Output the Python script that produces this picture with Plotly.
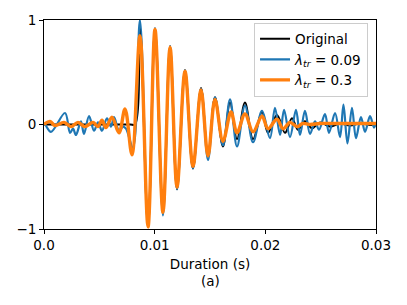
import plotly.graph_objects as go

# ---- data ----
t_orig = [0.0, 0.0050, 0.0078, 0.00822, 0.00867, 0.00940, 0.01003, 0.01075, 0.01139,
          0.01202, 0.01274, 0.01346, 0.01419, 0.01482, 0.01545, 0.01617, 0.01681,
          0.01744, 0.01816, 0.01889, 0.01970, 0.02024, 0.02105, 0.02178, 0.02241,
          0.02295, 0.02358, 0.02422, 0.02494, 0.02584, 0.02675, 0.02765, 0.02855, 0.02946, 0.03]
y_orig = [0.0, 0.0, 0.0, 0.0, 0.93, -0.98, 0.92, -0.85, 0.75,
          -0.62, 0.52, -0.42, 0.35, -0.30, 0.26, -0.21, 0.21,
          -0.14, 0.21, -0.14, 0.12, -0.08, 0.09, -0.08, 0.06,
          -0.05, 0.03, -0.035, 0.02, -0.02, 0.01, -0.01, 0.01, -0.005, 0.0]

t_l009 = [0.0, 0.00009, 0.00063, 0.00190, 0.00235, 0.00262, 0.00289, 0.00334, 0.00361,
          0.00407, 0.00452, 0.00488, 0.00524, 0.00569, 0.00605, 0.00633, 0.00678,
          0.00714, 0.00741, 0.00804, 0.00867, 0.00940, 0.01003, 0.01075, 0.01139,
          0.01202, 0.01274, 0.01346, 0.01419, 0.01482, 0.01545, 0.01617, 0.01681,
          0.01744, 0.01816, 0.01889, 0.01970, 0.02042, 0.02087, 0.02133, 0.02169,
          0.02223, 0.02277, 0.02313, 0.02358, 0.02404, 0.02449, 0.02485, 0.02539,
          0.02575, 0.02630, 0.02675, 0.02706, 0.02742, 0.02783, 0.02819, 0.02864,
          0.02901, 0.02946, 0.02982, 0.03]
y_l009 = [0.0, 0.0, -0.07, 0.11, -0.08, -0.04, -0.10, 0.03, -0.09,
          0.08, -0.06, 0.02, -0.06, 0.06, -0.02, 0.07, -0.06,
          -0.02, -0.04, -0.22, 1.0, -0.98, 0.92, -0.87, 0.75,
          -0.62, 0.52, -0.42, 0.34, -0.34, 0.26, -0.20, 0.24,
          -0.21, 0.18, -0.17, 0.13, -0.13, 0.16, -0.10, 0.14,
          -0.12, 0.14, -0.10, 0.13, -0.09, 0.03, -0.05, 0.10,
          -0.08, 0.11, -0.12, 0.19, -0.18, 0.16, -0.13, 0.07,
          -0.07, 0.08, -0.03, 0.02]

t_l03 = [0.0, 0.00054, 0.00099, 0.00181, 0.00244, 0.00307, 0.00370, 0.00443, 0.00488,
         0.00524, 0.00560, 0.00614, 0.00678, 0.00732, 0.00795, 0.00867, 0.00940,
         0.01003, 0.01075, 0.01139, 0.01202, 0.01274, 0.01346, 0.01419, 0.01482,
         0.01545, 0.01617, 0.01690, 0.01744, 0.01816, 0.01889, 0.01970, 0.02024,
         0.02105, 0.02160, 0.02223, 0.02286, 0.02340, 0.02404, 0.02494, 0.02630, 0.03]
y_l03 = [0.0, 0.03, -0.01, 0.02, -0.02, 0.02, -0.02, 0.02, -0.02,
         0.04, -0.03, 0.07, -0.08, 0.15, -0.29, 0.85, -0.98,
         0.91, -0.84, 0.74, -0.60, 0.51, -0.40, 0.33, -0.30,
         0.24, -0.16, 0.12, -0.08, 0.10, -0.07, 0.08, -0.04,
         0.05, -0.04, 0.02, -0.02, 0.01, 0.0, 0.01, 0.01, 0.01]

x_ticks = [0.0, 0.01, 0.02, 0.03]
x_ticktext = ["0.0", "0.01", "0.02", "0.03"]
y_ticks = [-1, 0, 1]
y_ticktext = ["\u22121", "0", "1"]

FONT = "DejaVu Sans"
FS = 13.5

fig = go.Figure()
fig.add_trace(go.Scatter(x=t_orig, y=y_orig, mode="lines", name="Original",
                         line=dict(color="#000000", width=2.0, shape="spline", smoothing=1.0)))
fig.add_trace(go.Scatter(x=t_l009, y=y_l009, mode="lines",
                         name="<i>λ</i><sub><i>tr</i></sub> = 0.09",
                         line=dict(color="#1f77b4", width=2.2, shape="spline", smoothing=1.0)))
fig.add_trace(go.Scatter(x=t_l03, y=y_l03, mode="lines",
                         name="<i>λ</i><sub><i>tr</i></sub> = 0.3",
                         line=dict(color="#ff7f0e", width=3.4, shape="spline", smoothing=1.0)))

axis_common = dict(showline=True, mirror=True, linecolor="#000000", linewidth=1,
                   ticks="outside", ticklen=4, tickwidth=1, tickcolor="#000000",
                   showgrid=False, zeroline=False, automargin=False,
                   tickfont=dict(family=FONT, size=FS, color="#000000"))

fig.update_xaxes(range=[0, 0.03], tickvals=x_ticks, ticktext=x_ticktext,
                 title=dict(text="Duration (s)", standoff=7,
                            font=dict(family=FONT, size=FS, color="#000000")),
                 **axis_common)
fig.update_yaxes(range=[-1, 1], tickvals=y_ticks, ticktext=y_ticktext, **axis_common)

fig.add_annotation(text="(a)", xref="paper", yref="paper", x=0.5, y=-0.249,
                   xanchor="center", yanchor="middle", showarrow=False,
                   font=dict(family=FONT, size=FS, color="#000000"))

# page body has an 8px offset; size the figure so the plot area lands where the reference has it
fig.update_layout(
    width=399, height=297,
    margin=dict(l=36, r=31, t=12, b=76, autoexpand=False),
    paper_bgcolor="white", plot_bgcolor="white",
    font=dict(family=FONT, size=FS, color="#000000"),
    legend=dict(x=0.976, xanchor="right", y=0.988, yanchor="top",
                bordercolor="#cccccc", borderwidth=1,
                bgcolor="rgba(255,255,255,0.8)",
                font=dict(family=FONT, size=FS, color="#000000"),
                tracegroupgap=0, itemwidth=30),
    showlegend=True,
)

fig.write_html("out.html")
